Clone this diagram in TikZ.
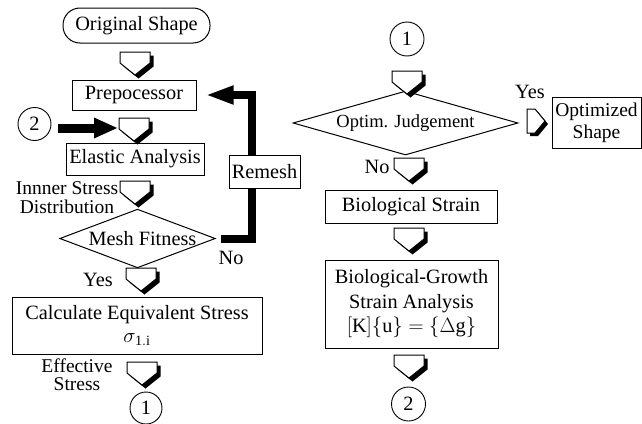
\documentclass[tikz,border=0pt]{standalone}
\usepackage{fontspec}
\setmainfont{Liberation Serif}
\usetikzlibrary{arrows.meta,shapes.geometric,calc}
\pgfdeclarelayer{bg}
\pgfsetlayers{bg,main}
\tikzset{
  every node/.style={font=\fontsize{20.3}{22}\selectfont, inner sep=0pt},
  box/.style={draw, line width=1pt, fill=white, inner sep=0pt, align=center},
  dec/.style={draw, shape=diamond, line width=1pt, fill=white, inner sep=0pt},
  conn/.style={draw, circle, line width=0.9pt, fill=white, minimum size=33pt},
  lbl/.style={align=center},
  fat/.style={line width=9pt, -{Triangle[length=24pt,width=19pt]}},
  loopline/.style={line width=8pt, line join=miter, -{Triangle[length=28pt,width=17pt]}},
  downarrow/.pic={
    \fill[black] (-11.5,3.5) -- (18.5,3.5) -- (18.5,14.5) -- (3.5,26.5) -- (-11.5,14.5) -- cycle;
    \draw[line width=1pt, fill=white, line join=miter] (-15,0) -- (15,0) -- (15,11) -- (0,23) -- (-15,11) -- cycle;
  },
  rightarrow/.pic={
    \fill[black] (3,-9) -- (11,-9) -- (21,3) -- (11,15) -- (3,15) -- cycle;
    \draw[line width=1pt, fill=white, line join=miter] (0,-12) -- (8,-12) -- (18,0) -- (8,12) -- (0,12) -- cycle;
  }
}
\begin{document}
\begin{tikzpicture}[x=1pt,y=-1pt]
\useasboundingbox (0,0) rectangle (642,423);
\begin{pgfonlayer}{bg}
\fill[white] (0,0) rectangle (642,423);
\end{pgfonlayer}

% left column
\node[box, rounded corners=17pt, minimum width=147pt, minimum height=35pt] (orig) at (136.5,25.5) {Original Shape};
\node[box, minimum width=124pt, minimum height=30pt] (prep) at (134,95) {Prepocessor};
\node[conn] (c2) at (34.5,124) {2};
\node[box, minimum width=138pt, minimum height=32pt] (elastic) at (135,159) {Elastic Analysis};
\node[box, minimum width=71pt, minimum height=33pt] (remesh) at (264.5,171.5) {Remesh};
\node[lbl, font=\fontsize{19.5}{19}\selectfont] (inner) at (67,198) {Innner Stress\\Distribution};
\node[dec, aspect=2.65, minimum width=151pt, minimum height=57pt] (mesh) at (137.5,238.5) {\hspace*{10pt}Mesh Fitness};
\node (no1) at (231,258) {No};
\node (yes1) at (98,280) {Yes};
\node[box, minimum width=250pt, minimum height=57pt, font=\fontsize{20.3}{23}\selectfont] (calc) at (137,325.5) {Calculate Equivalent Stress\\$\sigma_{\mathrm{1.i}}$};
\node[lbl, font=\fontsize{19.5}{18}\selectfont] (eff) at (77,375) {Effective\\Stress};
\node[conn, minimum size=32pt] (c1b) at (146,408) {1};

% right column
\node[conn, minimum size=34pt] (c1t) at (407,39) {1};
\node[dec, aspect=3.5, minimum width=225pt, minimum height=64pt, font=\fontsize{18.5}{21}\selectfont] (optim) at (405.5,123) {Optim. Judgement};
\node (yes2) at (530,92) {Yes};
\node[box, minimum width=89pt, minimum height=51pt, font=\fontsize{19.5}{22}\selectfont] (optshape) at (596.5,122.5) {Optimized\\Shape};
\node (no2) at (377,167) {No};
\node[box, minimum width=172pt, minimum height=33pt] (bio) at (411,206.5) {Biological Strain};
\node[box, minimum width=173pt, minimum height=88pt, font=\fontsize{20.3}{24.5}\selectfont] (growth) at (411.5,304) {Biological-Growth\\Strain Analysis\\$[\mathrm{K}]\{\mathrm{u}\}=\{\Delta\mathrm{g}\}$};
\node[conn, minimum size=34pt] (c2b) at (408.5,404) {2};

% block arrows
\pic at (135,52) {downarrow};
\pic at (134,118) {downarrow};
\pic at (135,181) {downarrow};
\pic at (141,268) {downarrow};
\pic at (142,362) {downarrow};
\pic at (407,71) {downarrow};
\pic at (409,158) {downarrow};
\pic at (409,228) {downarrow};
\pic at (409,355) {downarrow};
\pic at (527,121) {rightarrow};

% thick connectors
\coordinate (a2l) at (118,128);
\draw[fat, shorten <=7pt] (c2.east |- a2l) -- (a2l);
\coordinate (loop) at (252,0);
\begin{pgfonlayer}{bg}
\draw[loopline, shorten <=5pt, shorten >=9pt] (mesh.east) -| (loop |- prep.east) -- (prep.east);
\end{pgfonlayer}
\end{tikzpicture}
\end{document}
